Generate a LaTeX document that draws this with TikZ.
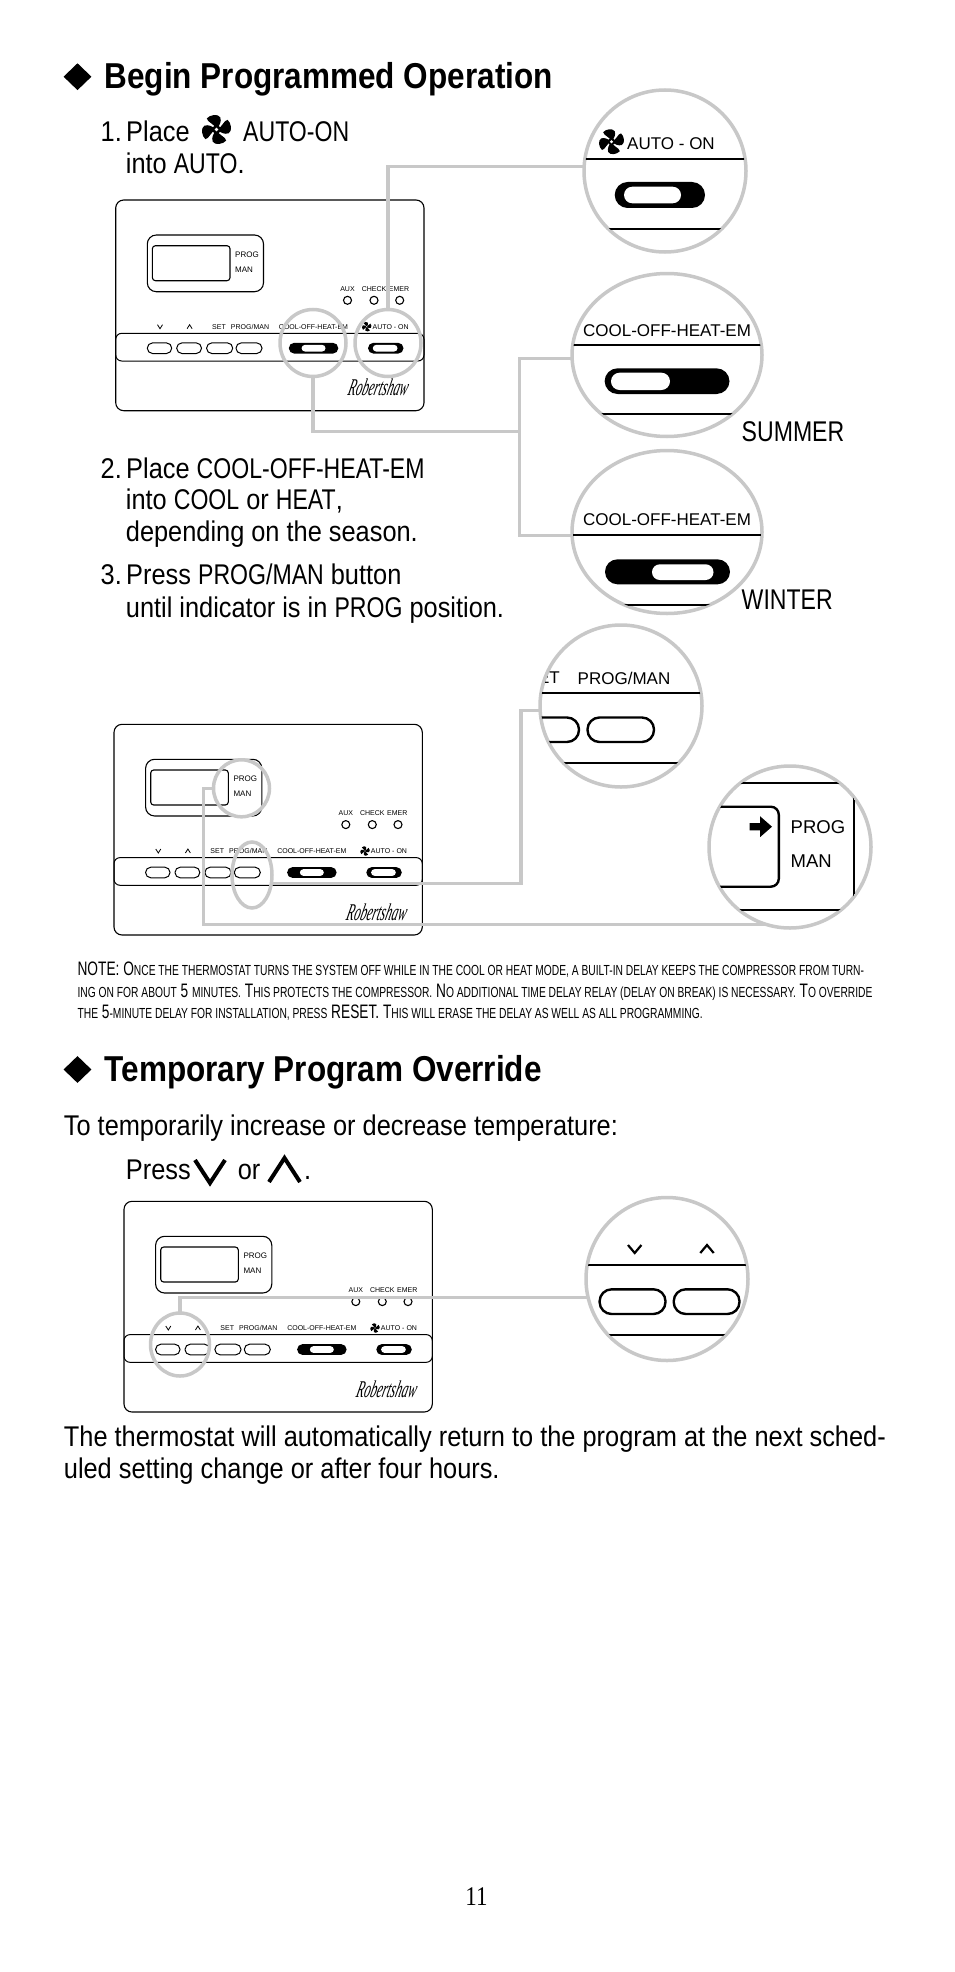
\documentclass[tikz,border=0pt]{standalone}
\usepackage{fontspec}
\usepackage{xcolor}
\usetikzlibrary{positioning, shapes.geometric, calc}
\setmainfont{Liberation Sans}
\newfontfamily\bodyfam[FakeStretch=0.89]{Liberation Sans}
\newfontfamily\capfam[FakeStretch=0.81]{Liberation Sans}
\newfontfamily\headfam[FakeStretch=0.875]{Liberation Sans}
\newfontfamily\notefam[FakeStretch=0.703]{Liberation Sans}
\newfontfamily\logofam[FakeStretch=0.52,FakeSlant=0.25]{Liberation Serif}
\newfontfamily\pagefam[FakeStretch=0.85]{Liberation Serif}
\newcommand{\notesc}[1]{{\fontsize{14.6}{15}\selectfont #1}}
\newcommand{\capw}[1]{{\capfam #1}}
\definecolor{leadergray}{HTML}{C8C8C8}

\begin{document}
\begin{tikzpicture}[
    x=1pt, y=-1pt,
    heading/.style={anchor=base west, inner sep=0pt, font=\headfam\fontsize{36}{38}\selectfont\bfseries},
    bodytext/.style={anchor=base west, inner sep=0pt, yshift=-.7pt, font=\bodyfam\fontsize{28.5}{30}\selectfont},
    notetext/.style={anchor=base west, inner sep=0pt, font=\notefam\fontsize{19.5}{20}\selectfont},
    paneltext/.style={inner sep=0pt, font=\fontsize{7}{8}\selectfont},
    lenstext/.style={inner sep=0pt, font=\fontsize{17}{18}\selectfont},
    bullet/.style={diamond, fill=black, inner sep=0pt, minimum width=28pt, minimum height=27pt},
    lens/.style 2 args={ellipse, draw=leadergray, line width=3.5pt, inner sep=0pt, outer sep=0pt,
                  minimum width=#1pt, minimum height=#2pt},
    leader/.style={draw=leadergray, line width=3.4pt},
    led/.style={circle, draw, line width=1.1pt, inner sep=0pt, minimum size=8pt},
    rulex/.style={line width=2.2pt},
    fan/.pic={
      \foreach \a in {20,110,200,290}
        \fill[rotate=\a] (0,0) .. controls (.05,-.4) and (-.45,-.7) .. (-.38,-.98)
                               .. controls (-.1,-1.15) and (.5,-1.05) .. (.55,-.72)
                               .. controls (.55,-.4) and (.3,-.2) .. (0,0);
      \fill (0,0) circle [radius=.3];
      \fill[white] (0,0) circle [radius=.13];
    },
    thermostat/.pic={
      \draw[line width=1.1pt, rounded corners=8pt] (0,0) rectangle (308.3,210.7);
      \draw[line width=1pt, rounded corners=6pt] (0,133.3) rectangle (308.3,161);
      \draw[line width=1.1pt, rounded corners=9pt] (31.6,35) rectangle (147.8,91.7);
      \draw[line width=1.1pt, rounded corners=3pt] (36.7,45.7) rectangle (114.3,80.7);
      \node[paneltext, anchor=west] (-prog) at (119.3,54.8) {\fontsize{8}{9}\selectfont PROG};
      \node[paneltext, anchor=west] (-man) at (119.3,69.6) {\fontsize{8}{9}\selectfont MAN};
      \node[paneltext] (-aux) at (231.8,89) {AUX};
      \node[paneltext] (-check) at (258.3,89) {CHECK};
      \node[paneltext] (-emer) at (283.3,89) {EMER};
      \node[led] (-ledaux) at (231.8,100.3) {};
      \node[led] (-ledcheck) at (258.3,100.3) {};
      \node[led] (-ledemer) at (284,100.3) {};
      \draw[line width=.8pt] (41.8,124.7) -- (44.3,128.7) -- (46.8,124.7);
      \draw[line width=.8pt] (71.4,128.7) -- (73.9,124.7) -- (76.4,128.7);
      \node[paneltext] (-set) at (103.3,126.7) {SET};
      \node[paneltext] (-progman) at (134.3,126.7) {PROG/MAN};
      \node[paneltext] (-mode) at (197.8,126.7) {COOL-OFF-HEAT-EM};
      \node[paneltext] (-auto) at (275,126.7) {AUTO - ON};
      \pic[scale=4.6] at (251,126.7) {fan};
      \foreach \xa/\xb in {31.6/56,61/85.8,90.9/117,120.3/146.3}
        \draw[line width=1pt, rounded corners=5.2pt] (\xa,142.9) rectangle (\xb,153.5);
      \fill[rounded corners=5.4pt] (173.1,142.8) rectangle (222.6,153.6);
      \fill[white, rounded corners=3.3pt] (185.9,144.9) rectangle (209.8,151.5);
      \fill[rounded corners=5.4pt] (252.3,142.8) rectangle (287.8,153.6);
      \fill[white, rounded corners=3.3pt] (257.1,144.9) rectangle (281.8,151.5);
      \node[inner sep=0pt, font=\logofam\fontsize{24}{25}\selectfont\itshape] (-logo) at (261.3,187.5) {Robertshaw};
    }
  ]
  \useasboundingbox (0,0) rectangle (954,1972);
  \fill[white] (0,0) rectangle (954,1972);

  \node[bullet] (mark1) at (77.5,76.7) {};
  \node[heading] (title1) at (104.5,89) {Begin Programmed Operation};
  \node[bodytext] (s1a) at (100.5,141) {1.\hspace{-5pt} Place};
  \pic[scale=14] at (216.5,129.5) {fan};
  \node[bodytext] (s1b) at (243,141) {\capw{AUTO-ON}};
  \node[bodytext] (s1c) at (125.7,172.5) {into \capw{AUTO}.};
  \node[bodytext] (s2a) at (100.5,477.7) {2.\hspace{-5pt} Place \capw{COOL-OFF-HEAT-EM}};
  \node[bodytext] (s2b) at (125.7,509) {into \capw{COOL} or \capw{HEAT},};
  \node[bodytext] (s2c) at (125.7,540.7) {depending on the season.};
  \node[bodytext] (s3a) at (100.5,584) {3.\hspace{-5pt} Press \capw{PROG/MAN} button};
  \node[bodytext] (s3b) at (125.7,616.7) {until indicator is in \capw{PROG} position.};
  \node[bodytext] (summer) at (741.5,441) {\capw{SUMMER}};
  \node[bodytext] (winter) at (741.5,609) {\capw{WINTER}};

  \node[notetext] (note1) at (77.4,975.7) {NOTE: O\notesc{NCE THE THERMOSTAT TURNS THE SYSTEM OFF WHILE IN THE COOL OR HEAT MODE, A BUILT-IN DELAY KEEPS THE COMPRESSOR FROM TURN-}};
  \node[notetext] (note2) at (77.4,997) {\notesc{ING ON FOR ABOUT} 5 \notesc{MINUTES.} T\notesc{HIS PROTECTS THE COMPRESSOR.} N\notesc{O ADDITIONAL TIME DELAY RELAY (DELAY ON BREAK) IS NECESSARY.} T\notesc{O OVERRIDE}};
  \node[notetext] (note3) at (77.4,1018) {\notesc{THE} 5\notesc{-MINUTE DELAY FOR INSTALLATION, PRESS} RESET. T\notesc{HIS WILL ERASE THE DELAY AS WELL AS ALL PROGRAMMING.}};

  \node[bullet] (mark2) at (77.5,1069.5) {};
  \node[heading] (title2) at (104.5,1081.5) {Temporary Program Override};
  \node[bodytext] (s4) at (63.7,1134.6) {To temporarily increase or decrease temperature:};
  \node[bodytext] (s5a) at (125.7,1178.6) {Press};
  \draw[line width=4pt] (195,1160) -- (210,1183) -- (225,1160);
  \node[bodytext] (s5b) at (237.6,1178.6) {or};
  \draw[line width=4pt] (269,1182) -- (284.5,1158) -- (300,1182);
  \node[bodytext] (s5c) at (304,1178.6) {.};
  \node[bodytext] (s6a) at (63.7,1445.4) {The thermostat will automatically return to the program at the next sched-};
  \node[bodytext] (s6b) at (63.7,1477.5) {uled setting change or after four hours.};
  \node[anchor=base, inner sep=0pt, font=\pagefam\fontsize{27}{28}\selectfont] (pageno) at (476.5,1905) {11};

  \pic (ta) at (115.7,200) {thermostat};
  \pic (tb) at (114,724.3) {thermostat};
  \pic (tc) at (124,1201.3) {thermostat};

  \node[lens={162}{162}] (lensauto) at (665,171) {};
  \node[lens={190}{163}] (lenssummer) at (667,355) {};
  \node[lens={190}{163}] (lenswinter) at (667,532) {};
  \node[lens={162}{162}] (lensbtn) at (621,706) {};
  \node[lens={162}{162}] (lensprog) at (790,847) {};
  \node[lens={162}{163}] (lensarrows) at (667,1279) {};
  \node[lens={66}{67}] (spotcool) at (313,343) {};
  \node[lens={66}{67}] (spotauto) at (388,343) {};
  \node[lens={56}{57}] (spotind) at (241.5,788.3) {};
  \node[lens={40}{66}] (spotmode) at (252,875) {};
  \node[lens={59}{63}] (spotarrows) at (180,1344.5) {};

  \begin{scope}
    \clip (lensauto.center) circle [radius=80];
    \pic[scale=12] at (611.5,141.7) {fan};
    \node[lenstext] (autotxt) at (671,143.5) {AUTO - ON};
    \draw[rulex] (580,158.7) -- (750,158.7);
    \fill[rounded corners=13pt] (614.7,182) rectangle (705,208);
    \fill[white, rounded corners=8.3pt] (624,186.7) rectangle (681,203.3);
    \draw[rulex] (580,229) -- (750,229);
  \end{scope}
  \begin{scope}
    \clip (lenssummer.center) ellipse [x radius=94, y radius=81];
    \node[lenstext] (summertxt) at (667,330.7) {COOL-OFF-HEAT-EM};
    \draw[rulex] (570,345) -- (765,345);
    \fill[rounded corners=13pt] (604.6,368.3) rectangle (729.5,394);
    \fill[white, rounded corners=8.6pt] (611,372.7) rectangle (670,390);
    \draw[rulex] (570,414.3) -- (765,414.3);
  \end{scope}
  \begin{scope}
    \clip (lenswinter.center) ellipse [x radius=94, y radius=81];
    \node[lenstext] (wintertxt) at (667,520) {COOL-OFF-HEAT-EM};
    \draw[rulex] (570,535.3) -- (765,535.3);
    \fill[rounded corners=12.5pt] (605,559.3) rectangle (730,584.3);
    \fill[white, rounded corners=7.8pt] (652,564.3) rectangle (713.5,580);
    \draw[rulex] (570,605) -- (765,605);
  \end{scope}
  \begin{scope}
    \clip (lensbtn.center) circle [radius=80];
    \node[lenstext, anchor=east] (settxt) at (560,678) {SET};
    \node[lenstext] (progmantxt) at (624,678) {PROG/MAN};
    \draw[rulex] (535,692.7) -- (710,692.7);
    \draw[line width=2.4pt, rounded corners=12pt] (512.5,717.5) rectangle (579,742);
    \draw[line width=2.4pt, rounded corners=12pt] (587.5,717.5) rectangle (654,742);
    \draw[rulex] (535,762.7) -- (710,762.7);
  \end{scope}
  \begin{scope}
    \clip (lensprog.center) circle [radius=80];
    \draw[rulex] (700,783.3) -- (880,783.3);
    \draw[line width=2.4pt, rounded corners=8pt] (690,806.7) -- (778.8,806.7) -- (778.8,886.7) -- (690,886.7);
    \fill (749.7,823) -- (760,823) -- (760,816.2) -- (772,826.7) -- (760,837.2) -- (760,830.4) -- (749.7,830.4) -- cycle;
    \node[lenstext, anchor=west, font=\fontsize{18.5}{19}\selectfont] (progtxt) at (790.5,827) {PROG};
    \node[lenstext, anchor=west, font=\fontsize{18.5}{19}\selectfont] (mantxt) at (790.5,860.7) {MAN};
    \draw[rulex] (853.8,770) -- (853.8,925);
    \draw[rulex] (700,910) -- (880,910);
  \end{scope}
  \begin{scope}
    \clip (lensarrows.center) circle [radius=80];
    \draw[line width=2.2pt] (628,1245) -- (634.7,1253) -- (641.4,1245);
    \draw[line width=2.2pt] (700.3,1253) -- (707,1245) -- (713.7,1253);
    \draw[rulex] (580,1265) -- (755,1265);
    \draw[line width=2.4pt, rounded corners=12pt] (599.6,1289.3) rectangle (665.5,1314);
    \draw[line width=2.4pt, rounded corners=12pt] (673.7,1289.3) rectangle (739.5,1314);
    \draw[rulex] (580,1335.3) -- (755,1335.3);
  \end{scope}

  \coordinate (joint) at (519.5,431.7);
  \coordinate (elbowmode) at (521,800);
  \coordinate (elbowprog) at (203.3,860);
  \draw[leader] (lensauto.177) -| (spotauto.north);
  \draw[leader] (lenssummer.182.5) -| (joint) |- (lenswinter.182.4);
  \draw[leader] (spotcool.south) |- (joint);
  \draw[leader] (spotmode.336) -| (elbowmode) |- (lensbtn.183);
  \draw[leader] (spotind.180) -| (elbowprog) |- (lensprog.253);
  \draw[leader] (lensarrows.193) -| (spotarrows.north);
\end{tikzpicture}
\end{document}
